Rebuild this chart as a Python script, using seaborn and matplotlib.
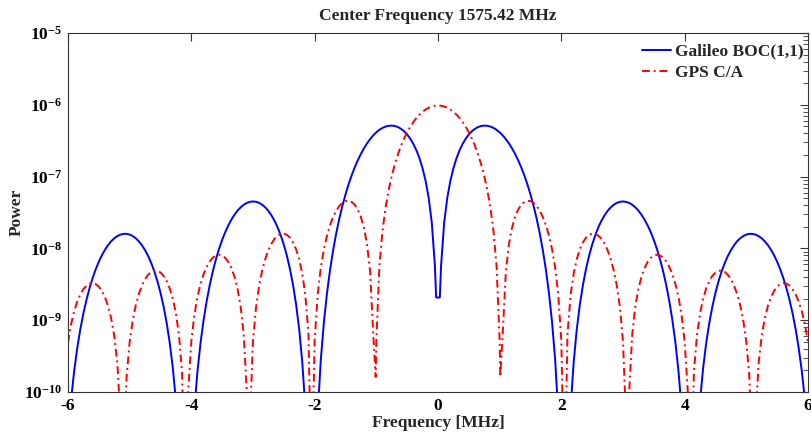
import matplotlib
matplotlib.use("Agg")
import matplotlib.pyplot as plt
import numpy as np
import pandas as pd
import seaborn as sns
from matplotlib.ticker import FixedLocator, FixedFormatter, LogLocator, NullFormatter, NullLocator

# ---------------- data (positive-frequency half; spectra are symmetric) ----------------
freq_pos = [0.03, 0.05, 0.10, 0.15, 0.20, 0.25, 0.30, 0.35, 0.40, 0.45, 0.50,
            0.55, 0.60, 0.65, 0.70, 0.75, 0.80, 0.85, 0.90, 0.95, 1.00, 1.01,
            1.05, 1.10, 1.15, 1.20, 1.25, 1.30, 1.35, 1.40, 1.45, 1.50,
            1.55, 1.60, 1.65, 1.70, 1.75, 1.80, 1.85, 1.90, 1.95, 2.00,
            2.05, 2.10, 2.15, 2.20, 2.25, 2.30, 2.35, 2.40, 2.45, 2.50,
            2.55, 2.60, 2.65, 2.70, 2.75, 2.80, 2.85, 2.90, 2.95, 3.00,
            3.05, 3.10, 3.15, 3.20, 3.25, 3.30, 3.35, 3.40, 3.45, 3.50,
            3.55, 3.60, 3.65, 3.70, 3.75, 3.80, 3.85, 3.90, 3.95, 4.00,
            4.05, 4.10, 4.15, 4.20, 4.25, 4.30, 4.35, 4.40, 4.45, 4.50,
            4.55, 4.60, 4.65, 4.70, 4.75, 4.80, 4.85, 4.90, 4.95, 5.00,
            5.05, 5.10, 5.15, 5.20, 5.25, 5.30, 5.35, 5.40, 5.45, 5.50,
            5.55, 5.60, 5.65, 5.70, 5.75, 5.80, 5.85, 5.90, 5.95, 6.00]

gps_pos = [9.747e-7, 9.699e-7, 9.472e-7, 9.103e-7, 8.606e-7, 7.999e-7, 7.304e-7, 6.545e-7, 5.748e-7, 4.938e-7, 4.141e-7,
           3.379e-7, 2.672e-7, 2.036e-7, 1.482e-7, 1.019e-7, 6.480e-8, 3.682e-8, 1.741e-8, 5.676e-9, 5.162e-10, 1.619e-10,
           6.449e-10, 4.701e-9, 1.133e-8, 1.925e-8, 2.734e-8, 3.466e-8, 4.049e-8, 4.436e-8, 4.605e-8, 4.555e-8,
           4.305e-8, 3.887e-8, 3.348e-8, 2.737e-8, 2.106e-8, 1.504e-8, 9.710e-9, 5.395e-9, 2.301e-9, 5.137e-10,
           3.721e-12, 6.404e-10, 2.210e-9, 4.443e-9, 7.038e-9, 9.691e-9, 1.2125e-8, 1.410e-8, 1.545e-8, 1.607e-8,
           1.593e-8, 1.507e-8, 1.360e-8, 1.166e-8, 9.449e-9, 7.148e-9, 4.953e-9, 3.032e-9, 1.521e-9, 5.094e-10,
           3.790e-11, 9.745e-11, 6.331e-10, 1.552e-9, 2.732e-9, 4.038e-9, 5.331e-9, 6.482e-9, 7.383e-9, 7.955e-9,
           8.153e-9, 7.969e-9, 7.431e-9, 6.597e-9, 5.548e-9, 4.382e-9, 3.202e-9, 2.107e-9, 1.185e-9, 5.035e-10,
           1.045e-10, 3.72e-12, 1.889e-10, 6.230e-10, 1.248e-9, 1.993e-9, 2.777e-9, 3.521e-9, 4.155e-9, 4.619e-9,
           4.873e-9, 4.898e-9, 4.697e-9, 4.292e-9, 3.725e-9, 3.050e-9, 2.328e-9, 1.624e-9, 9.963e-10, 4.960e-10,
           1.598e-10, 8.45e-12, 4.497e-11, 2.553e-10, 6.102e-10, 1.068e-9, 1.580e-9, 2.095e-9, 2.561e-9, 2.935e-9,
           3.183e-9, 3.283e-9, 3.230e-9, 3.031e-9, 2.705e-9, 2.286e-9, 1.812e-9, 1.327e-9, 8.722e-10, 4.869e-10]

boc_pos = [2.071e-9, 5.739e-9, 2.269e-8, 5.005e-8, 8.655e-8, 1.305e-7, 1.799e-7, 2.324e-7, 2.858e-7, 3.377e-7, 3.858e-7,
           4.282e-7, 4.632e-7, 4.895e-7, 5.063e-7, 5.131e-7, 5.100e-7, 4.975e-7, 4.764e-7, 4.480e-7, 4.136e-7, 4.061e-7,
           3.748e-7, 3.332e-7, 2.904e-7, 2.479e-7, 2.071e-7, 1.689e-7, 1.343e-7, 1.039e-7, 7.784e-8, 5.633e-8,
           3.914e-8, 2.593e-8, 1.622e-8, 9.452e-9, 5.029e-9, 2.368e-9, 9.353e-10, 2.805e-10, 5.073e-11, 2.572e-12,
           1.4e-16, 4.424e-12, 5.734e-11, 2.580e-10, 7.383e-10, 1.638e-9, 3.079e-9, 5.150e-9, 7.887e-9, 1.127e-8,
           1.521e-8, 1.958e-8, 2.419e-8, 2.882e-8, 3.324e-8, 3.721e-8, 4.053e-8, 4.302e-8, 4.455e-8, 4.504e-8,
           4.449e-8, 4.295e-8, 4.051e-8, 3.732e-8, 3.357e-8, 2.944e-8, 2.515e-8, 2.089e-8, 1.683e-8, 1.311e-8,
           9.835e-9, 7.069e-9, 4.833e-9, 3.113e-9, 1.862e-9, 1.014e-9, 4.862e-10, 1.943e-10, 5.818e-11, 1.018e-11,
           4.36e-13, 5.7e-16, 1.506e-12, 1.745e-11, 7.645e-11, 2.179e-10, 4.858e-10, 9.218e-10, 1.560e-9, 2.419e-9,
           3.503e-9, 4.794e-9, 6.255e-9, 7.833e-9, 9.458e-9, 1.105e-8, 1.254e-8, 1.383e-8, 1.486e-8, 1.558e-8,
           1.594e-8, 1.592e-8, 1.554e-8, 1.482e-8, 1.380e-8, 1.253e-8, 1.110e-8, 9.570e-9, 8.019e-9, 6.514e-9,
           5.114e-9, 3.864e-9, 2.796e-9, 1.922e-9, 1.243e-9, 7.460e-10, 4.063e-10, 1.943e-10, 7.691e-11, 2.253e-11]

series_names = ["Galileo BOC(1,1)", "GPS C/A"]
x_ticks = [-6, -4, -2, 0, 2, 4, 6]
x_tick_labels = ["-6", "-4", "-2", "0", "2", "4", "6"]
y_ticks = [1e-10, 1e-9, 1e-8, 1e-7, 1e-6, 1e-5]
y_tick_labels = [r"$\mathbf{10^{-10}}$", r"$\mathbf{10^{-9}}$", r"$\mathbf{10^{-8}}$",
                 r"$\mathbf{10^{-7}}$", r"$\mathbf{10^{-6}}$", r"$\mathbf{10^{-5}}$"]
title_text = "Center Frequency 1575.42 MHz"
x_label = "Frequency [MHz]"
y_label = "Power"

# ---------------- build table (mirror the symmetric half) ----------------
freq_full = [-f for f in reversed(freq_pos)] + list(freq_pos)
boc_full = list(reversed(boc_pos)) + list(boc_pos)
gps_full = list(reversed(gps_pos)) + list(gps_pos)
df = pd.DataFrame({
    "freq": freq_full * 2,
    "power": boc_full + gps_full,
    "signal": [series_names[0]] * len(freq_full) + [series_names[1]] * len(freq_full),
})

# ---------------- style ----------------
sns.set_style("white")
plt.rcParams["font.family"] = ["Liberation Serif", "DejaVu Serif"]
plt.rcParams["font.weight"] = "bold"
plt.rcParams["mathtext.fontset"] = "custom"
plt.rcParams["mathtext.rm"] = "Liberation Serif:bold"
plt.rcParams["mathtext.bf"] = "Liberation Serif:bold"
plt.rcParams["mathtext.it"] = "Liberation Serif:bold:italic"
plt.rcParams["axes.unicode_minus"] = False

FS = 12.5

fig, ax = plt.subplots(figsize=(8.11, 4.33), dpi=100)
fig.subplots_adjust(left=0.0838, right=0.9963, top=0.9238, bottom=0.0947)

sns.lineplot(data=df, x="freq", y="power", hue="signal", style="signal",
             palette={series_names[0]: "#0000ff", series_names[1]: "#ff0000"},
             dashes={series_names[0]: "", series_names[1]: (4, 2, 1, 2)},
             estimator=None, linewidth=1.4, ax=ax)

ax.set_yscale("log")
ax.set_xlim(-6, 6)
ax.set_ylim(1e-10, 1e-5)

ax.xaxis.set_major_locator(FixedLocator(x_ticks))
ax.xaxis.set_major_formatter(FixedFormatter(x_tick_labels))
ax.xaxis.set_minor_locator(NullLocator())
ax.yaxis.set_major_locator(FixedLocator(y_ticks))
ax.yaxis.set_major_formatter(FixedFormatter(y_tick_labels))
ax.yaxis.set_minor_locator(LogLocator(base=10, subs=np.arange(2, 10)))
ax.yaxis.set_minor_formatter(NullFormatter())

ax.tick_params(which="both", direction="in", top=True, right=True, colors="#333333")
ax.tick_params(which="major", length=6, width=0.8, labelsize=FS, labelcolor="black", pad=4)
ax.tick_params(which="minor", length=3.5, width=0.6)
for sp in ax.spines.values():
    sp.set_visible(True)
    sp.set_color("#333333")
    sp.set_linewidth(0.8)

ax.set_title(title_text, fontsize=FS, fontweight="bold", pad=9)
ax.set_xlabel(x_label, fontsize=FS, fontweight="bold", labelpad=1)
ax.set_ylabel(y_label, fontsize=FS, fontweight="bold")
ax.yaxis.set_label_coords(-0.058, 0.5)

sns.move_legend(ax, "upper right", bbox_to_anchor=(1.004, 0.99), title=None, frameon=False,
                prop={"weight": "bold", "size": FS},
                handlelength=1.7, handletextpad=0.25, borderaxespad=0.0,
                labelspacing=0.32)

fig.savefig("out.png", dpi=100)
